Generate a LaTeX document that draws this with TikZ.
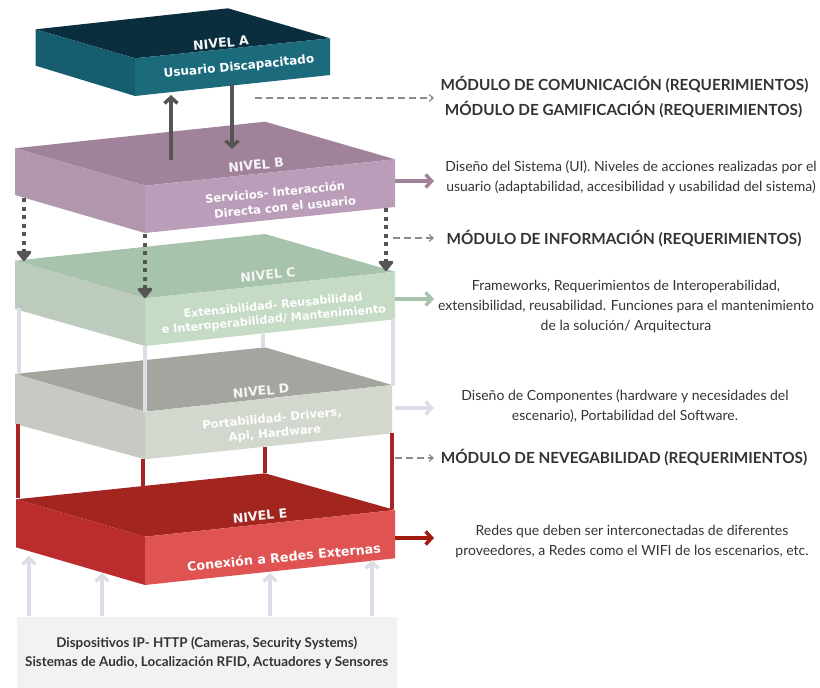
\documentclass[tikz,border=0pt]{standalone}
\usepackage{fontspec}
\setmainfont{Lato}
\newfontfamily\boxfont{DejaVu Sans}
\usetikzlibrary{arrows.meta}

\definecolor{txt}{HTML}{333333}
\definecolor{darkarrow}{HTML}{555555}
\definecolor{dashgrey}{HTML}{8A8A8A}
\definecolor{paleline}{HTML}{DCDDE6}
\definecolor{redline}{HTML}{A82424}
\definecolor{redarrow}{HTML}{A01A0F}
% slab colours: top, left side, front side
\definecolor{aTop}{HTML}{0B2E3F}\definecolor{aLeft}{HTML}{155D6F}\definecolor{aFront}{HTML}{1B6B7D}
\definecolor{bTop}{HTML}{A0839B}\definecolor{bLeft}{HTML}{B197AE}\definecolor{bFront}{HTML}{BA9EB9}
\definecolor{cTop}{HTML}{A8C3AB}\definecolor{cLeft}{HTML}{BDCABE}\definecolor{cFront}{HTML}{C5DBC6}
\definecolor{dTop}{HTML}{A4A59E}\definecolor{dLeft}{HTML}{C7CAC3}\definecolor{dFront}{HTML}{D3D8CF}
\definecolor{eTop}{HTML}{A32520}\definecolor{eLeft}{HTML}{BA2C2E}\definecolor{eFront}{HTML}{E05353}

% a slab: #1 prefix, #2 top, #3 left, #4 front colours
\newcommand\drawslab[4]{%
  \fill[#2] (#1L) -- (#1K) -- (#1R) -- (#1F) -- cycle;
  \fill[#3] (#1L) -- (#1F) -- (#1Fb) -- (#1Lb) -- cycle;
  \fill[#4] (#1F) -- (#1R) -- (#1Rb) -- (#1Fb) -- cycle;
}

\tikzset{
  lvl/.style={font=\boxfont\bfseries\fontsize{12.6}{15}\selectfont, text=white!96!black, rotate=5.5, inner sep=0pt},
  desc/.style={font=\boxfont\bfseries\fontsize{11.5}{14}\selectfont, text=white, rotate=5.5, inner sep=0pt},
  modtext/.style={font=\bfseries\fontsize{15.3}{18}\selectfont, text=txt, inner sep=0pt},
  note/.style={font=\fontsize{14}{20}\selectfont, text=txt, align=center, inner sep=0pt},
  dasharrow/.style={draw=dashgrey, line width=1.3pt, dash pattern=on 7pt off 4pt,
    -{Straight Barb[length=4pt,width=7pt,line width=1.2pt]}},
  fatarrow/.style={line width=4pt, -{Straight Barb[length=6pt,width=13pt,line width=3.5pt]}},
  dotarrow/.style={draw=darkarrow, line width=4pt, dash pattern=on 4pt off 4.5pt,
    -{Triangle[length=11pt,width=17pt,round]}},
  pillar/.style={line width=3.5pt},
}

\begin{document}
\begin{tikzpicture}[x=1pt,y=-1pt]
\useasboundingbox (0,0) rectangle (820,688);

% ---- slab corner points ----
\coordinate (aL) at (35.7,29.3);  \coordinate (aK) at (228,8.3);
\coordinate (aR) at (330,38.3);   \coordinate (aF) at (135,58.3);
\coordinate (aLb) at (35.7,65.7); \coordinate (aFb) at (135,96); \coordinate (aRb) at (330,75);

\coordinate (bL) at (15,148.3);   \coordinate (bK) at (265,121.7);
\coordinate (bR) at (395,159.3);  \coordinate (bF) at (145,185.7);
\coordinate (bLb) at (15,195);    \coordinate (bFb) at (145,233); \coordinate (bRb) at (395,207);

\coordinate (cL) at (15,260.7);   \coordinate (cK) at (265,234);
\coordinate (cR) at (395,271.7);  \coordinate (cF) at (145,298.3);
\coordinate (cLb) at (15,309);    \coordinate (cFb) at (145,346); \coordinate (cRb) at (395,319.3);

\coordinate (dL) at (15,374);     \coordinate (dK) at (265,347.3);
\coordinate (dR) at (392,385);    \coordinate (dF) at (145,411.7);
\coordinate (dLb) at (15,424);    \coordinate (dFb) at (145,459.3); \coordinate (dRb) at (392,433.3);

\coordinate (eL) at (16,499.3);   \coordinate (eK) at (265,473.3);
\coordinate (eR) at (395,510);    \coordinate (eF) at (145,536.7);
\coordinate (eLb) at (16,547.3);  \coordinate (eFb) at (145,585); \coordinate (eRb) at (395,558.3);

% ---- slabs ----
\drawslab{a}{aTop}{aLeft}{aFront}
\drawslab{b}{bTop}{bLeft}{bFront}
\drawslab{c}{cTop}{cLeft}{cFront}
\drawslab{d}{dTop}{dLeft}{dFront}
\drawslab{e}{eTop}{eLeft}{eFront}

% ---- slab labels ----
\node[lvl]  (nA) at (221,43)  {NIVEL A};
\node[desc, font=\boxfont\bfseries\fontsize{12}{14}\selectfont] (tA) at (239,67) {Usuario Discapacitado};
\node[lvl]  (nB) at (256,165) {NIVEL B};
\node[desc] (tB1) at (275,192) {Servicios- Interacción};
\node[desc] (tB2) at (285,207) {Directa con el usuario};
\node[lvl]  (nC) at (268,275) {NIVEL C};
\node[desc, font=\boxfont\bfseries\fontsize{11.2}{14}\selectfont] (tC1) at (273,305) {Extensibilidad- Reusabilidad};
\node[desc, font=\boxfont\bfseries\fontsize{11.2}{14}\selectfont] (tC2) at (274,320) {e Interoperabilidad/ Mantenimiento};
\node[lvl]  (nD) at (261,391) {NIVEL D};
\node[desc] (tD1) at (272,419) {Portabilidad- Drivers,};
\node[desc] (tD2) at (275,434) {Api, Hardware};
\node[lvl]  (nE) at (260,516) {NIVEL E};
\node[desc, font=\boxfont\bfseries\fontsize{12.7}{14}\selectfont] (tE) at (284,557) {Conexión a Redes Externas};

% ---- device box ----
\node[fill=black!5, minimum width=380pt, minimum height=72pt, inner sep=0pt,
      font=\bfseries\fontsize{13.4}{19}\selectfont, text=txt, align=center]
      (dev) at (206.7,652.5) {Dispositivos IP- HTTP (Cameras, Security Systems)\\Sistemas de Audio, Localización RFID, Actuadores y Sensores};

% ---- right-hand texts ----
\node[modtext] (m1) at (624.5,85)  {MÓDULO DE COMUNICACIÓN (REQUERIMIENTOS)};
\node[modtext] (m2) at (623.5,110) {MÓDULO DE GAMIFICACIÓN (REQUERIMIENTOS)};
\node[note]    (dB) at (631,177)   {Diseño del Sistema (UI). Niveles de acciones realizadas por el\\usuario (adaptabilidad, accesibilidad y usabilidad del sistema)};
\node[modtext] (m3) at (624,239)   {MÓDULO DE INFORMACIÓN (REQUERIMIENTOS)};
\node[note]    (dC) at (626,307)   {Frameworks, Requerimientos de Interoperabilidad,\\extensibilidad, reusabilidad. Funciones para el mantenimiento\\de la solución/ Arquitectura};
\node[note]    (dD) at (625,406)   {Diseño de Componentes (hardware y necesidades del\\escenario), Portabilidad del Software.};
\node[modtext] (m4) at (624,458)   {MÓDULO DE NEVEGABILIDAD (REQUERIMIENTOS)};
\node[note]    (dE) at (632,542)   {Redes que deben ser interconectadas de diferentes\\proveedores, a Redes como el WIFI de los escenarios, etc.};

% ---- connector end points ----
\coordinate (abUpS) at (171,160);  \coordinate (abUpE) at (171,95);
\coordinate (abDnS) at (232,84);   \coordinate (abDnE) at (232,149);
\coordinate (aOut) at (255,98);    \coordinate (aIn) at (434,98);
\coordinate (bOut) at (395,181);   \coordinate (bIn) at (434,181);
\coordinate (bcOut) at (393,238);  \coordinate (bcIn) at (434,238);
\coordinate (cOut) at (395,299);   \coordinate (cIn) at (434,299);
\coordinate (dOut) at (395,408);   \coordinate (dIn) at (434,408);
\coordinate (deOut) at (395,458);  \coordinate (deIn) at (434,458);
\coordinate (eOut) at (395,538);   \coordinate (eIn) at (434,538);

% ---- A <-> B ----
\draw[fatarrow, darkarrow] (abUpS) -- (abUpE);
\draw[fatarrow, darkarrow] (abDnS) -- (abDnE);

% ---- B to C, dotted ----
\draw[dotarrow] (24,198) -- (24,261);
\draw[dotarrow] (145,234) -- (145,298);
\draw[dotarrow] (386,208) -- (386,271);

% ---- C to D pillars ----
\draw[pillar, paleline] (19,308) -- (19,374);
\draw[pillar, paleline] (145,346) -- (dF);
\draw[pillar, paleline] (263,333.5) -- (263,348);
\draw[pillar, paleline] (393,318) -- (393,386);

% ---- D to E pillars ----
\draw[pillar, redline] (18,424) -- (18,498);
\draw[pillar, redline] (143,459) -- (143,536);
\draw[pillar, redline] (265,447) -- (eK);
\draw[pillar, redline] (392,433) -- (392,509);

% ---- devices up to E ----
\draw[fatarrow, paleline] (29,616) -- (29,556);
\draw[fatarrow, paleline] (102,616) -- (102,573);
\draw[fatarrow, paleline] (270,616) -- (270,573);
\draw[fatarrow, paleline] (372,616) -- (372,560);

% ---- side arrows ----
\draw[dasharrow] (aOut) -- (aIn);
\draw[fatarrow, bTop] (bOut) -- (bIn);
\draw[dasharrow] (bcOut) -- (bcIn);
\draw[fatarrow, cTop] (cOut) -- (cIn);
\draw[fatarrow, paleline] (dOut) -- (dIn);
\draw[dasharrow] (deOut) -- (deIn);
\draw[fatarrow, redarrow] (eOut) -- (eIn);
\end{tikzpicture}
\end{document}
